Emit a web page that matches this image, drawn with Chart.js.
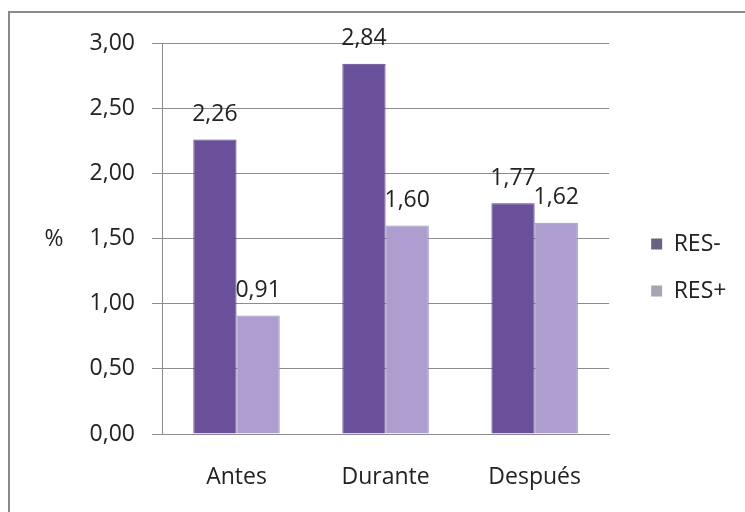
<!DOCTYPE html>
<html lang="es">
<head>
<meta charset="UTF-8">
<title>RES- / RES+</title>
<script src="https://cdn.jsdelivr.net/npm/chart.js"></script>
<style>
  body { margin: 0; background: #fff; }
  .wrap { position: relative; width: 745px; height: 512px; overflow: hidden; }
  .frame {
    position: absolute; left: 8px; top: 11px; width: 900px; height: 700px;
    border-top: 2px solid #8a8a8a; border-left: 2px solid #8a8a8a;
  }
  #chart { position: absolute; left: 0; top: 0; }
</style>
</head>
<body>
<div class="wrap">
  <div class="frame"></div>
  <canvas id="chart" width="745" height="512"></canvas>
</div>

<script>
// periods and series
var periods = ["Antes", "Durante", "Después"];
var resNeg = [2.26, 2.84, 1.77];
var resPos = [0.91, 1.60, 1.62];
var yTicks = [0, 0.5, 1, 1.5, 2, 2.5, 3];

var FONT = "'Open Sans', sans-serif";
var SIZE = 23;
var TEXT = "#222";
var GRID = "#8c8c8c";

function coma(v) { return v.toFixed(2).replace(".", ","); }

// value labels over each bar
var valueLabels = {
  id: "valueLabels",
  afterDatasetsDraw: function(chart) {
    var ctx = chart.ctx;
    ctx.save();
    ctx.font = SIZE + "px " + FONT;
    ctx.fillStyle = TEXT;
    ctx.textAlign = "center";
    ctx.textBaseline = "middle";
    chart.data.datasets.forEach(function(ds, i) {
      chart.getDatasetMeta(i).data.forEach(function(bar, j) {
        ctx.fillText(coma(ds.data[j]), bar.x, bar.y - 25);
      });
    });
    ctx.restore();
  }
};

// "%" written horizontally left of the value axis
var percentTitle = {
  id: "percentTitle",
  afterDraw: function(chart) {
    var ctx = chart.ctx, a = chart.chartArea;
    ctx.save();
    ctx.font = SIZE + "px " + FONT;
    ctx.fillStyle = TEXT;
    ctx.textAlign = "center";
    ctx.textBaseline = "middle";
    ctx.fillText("%", 54, (a.top + a.bottom) / 2 + 1);
    ctx.restore();
  }
};

new Chart(document.getElementById("chart"), {
  type: "bar",
  data: {
    labels: periods,
    datasets: [
      {
        label: "RES-",
        data: resNeg,
        backgroundColor: "#6a4f9a",
        borderColor: "#5a4188",
        borderWidth: 1
      },
      {
        label: "RES+",
        data: resPos,
        backgroundColor: "#ae9ed0",
        borderColor: "#a090c2",
        borderWidth: 1
      }
    ]
  },
  options: {
    responsive: false,
    animation: false,
    layout: { padding: { left: 88, right: 10, top: 43, bottom: 20 } },
    datasets: { bar: { categoryPercentage: 0.58, barPercentage: 1 } },
    scales: {
      x: {
        grid: { display: false },
        border: { display: true, color: GRID, width: 1 },
        ticks: { color: TEXT, font: { family: FONT, size: SIZE }, padding: 22, maxRotation: 0 },
        afterFit: function(scale) { scale.height = 58; }
      },
      y: {
        min: 0,
        max: 3,
        afterBuildTicks: function(scale) {
          scale.ticks = yTicks.map(function(v) { return { value: v }; });
        },
        grid: { color: GRID, tickLength: 10, lineWidth: 1 },
        border: { display: true, color: GRID, width: 1 },
        ticks: {
          color: TEXT,
          font: { family: FONT, size: SIZE },
          padding: 17,
          callback: function(v) { return coma(v); }
        },
        afterFit: function(scale) { scale.width = 74; }
      },
      // empty gap between the plot and the legend
      gap: {
        type: "linear",
        position: "right",
        display: true,
        grid: { display: false },
        border: { display: false },
        ticks: { display: false },
        afterFit: function(scale) { scale.width = 18; }
      }
    },
    plugins: {
      legend: {
        position: "right",
        labels: {
          boxWidth: 11,
          boxHeight: 11,
          padding: 24,
          color: TEXT,
          font: { family: FONT, size: SIZE },
          generateLabels: function(chart) {
            var marks = ["#6a6380", "#a9a3b3"];
            return chart.data.datasets.map(function(ds, i) {
              return {
                text: ds.label,
                fillStyle: marks[i],
                strokeStyle: marks[i],
                lineWidth: 0,
                datasetIndex: i,
                fontColor: TEXT
              };
            });
          }
        }
      },
      tooltip: { enabled: false }
    }
  },
  plugins: [valueLabels, percentTitle]
});
</script>
</body>
</html>
